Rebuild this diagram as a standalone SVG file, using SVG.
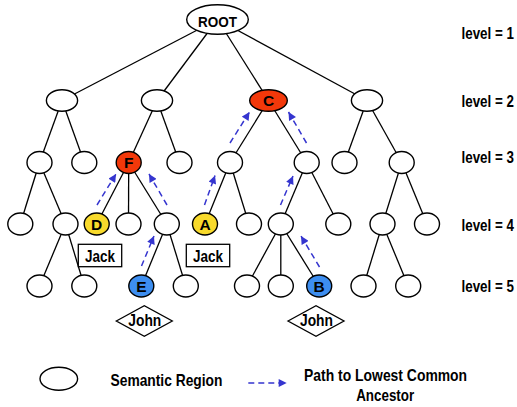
<svg xmlns="http://www.w3.org/2000/svg" width="517" height="407" viewBox="0 0 517 407">
  <style>
    .n { fill: #ffffff; stroke: #000000; stroke-width: 1.4; }
    .red { fill: #f2380a; }
    .yel { fill: #f8da2c; }
    .blu { fill: #3d8ef0; }
    .edge { stroke: #000000; stroke-width: 1.3; fill: none; }
    .lca { stroke: #3535cf; stroke-width: 1.5; stroke-dasharray: 6 4; fill: none; marker-end: url(#ah); }
    text { font-family: "Liberation Sans", Arial, Helvetica, sans-serif; font-weight: bold; fill: #000000; }
    .lbl { font-size: 16.5px; }
    .ltr { font-size: 15.5px; text-anchor: middle; }
    .tag { font-size: 16px; text-anchor: middle; }
    .box { fill: #ffffff; stroke: #000000; stroke-width: 1.3; }
  </style>
  <defs>
    <marker id="ah" viewBox="0 0 10 10" refX="10" refY="5" markerWidth="9" markerHeight="8" markerUnits="userSpaceOnUse" orient="auto">
      <path d="M0,0 L10,5 L0,10 z" fill="#3535cf"/>
    </marker>
  </defs>

  <rect width="517" height="407" fill="#ffffff"/>

  <!-- tree edges and ancestor paths -->
  <g id="connectors">
    <g id="tree-edges" class="edge">
      <line x1="217.5" y1="19.5" x2="62" y2="100.5"/>
      <line x1="217.5" y1="19.5" x2="157" y2="100.5"/>
      <line x1="217.5" y1="19.5" x2="268.5" y2="100.5"/>
      <line x1="217.5" y1="19.5" x2="367" y2="100.5"/>
      <line x1="62" y1="100.5" x2="39.5" y2="162.5"/>
      <line x1="62" y1="100.5" x2="84.3" y2="162.5"/>
      <line x1="157" y1="100.5" x2="128.7" y2="162.5"/>
      <line x1="157" y1="100.5" x2="179.5" y2="162.5"/>
      <line x1="268.5" y1="100.5" x2="230" y2="162.5"/>
      <line x1="268.5" y1="100.5" x2="306.7" y2="162.5"/>
      <line x1="367" y1="100.5" x2="344.5" y2="162.5"/>
      <line x1="367" y1="100.5" x2="401.7" y2="162.5"/>
      <line x1="39.5" y1="162.5" x2="20.3" y2="224"/>
      <line x1="39.5" y1="162.5" x2="65.5" y2="224"/>
      <line x1="128.7" y1="162.5" x2="96.7" y2="224"/>
      <line x1="128.7" y1="162.5" x2="128.5" y2="224"/>
      <line x1="128.7" y1="162.5" x2="166.8" y2="224"/>
      <line x1="230" y1="162.5" x2="205" y2="224"/>
      <line x1="230" y1="162.5" x2="249" y2="224"/>
      <line x1="306.7" y1="162.5" x2="280.8" y2="224"/>
      <line x1="306.7" y1="162.5" x2="338.3" y2="224"/>
      <line x1="401.7" y1="162.5" x2="382.5" y2="224"/>
      <line x1="401.7" y1="162.5" x2="427" y2="224"/>
      <line x1="65.5" y1="224" x2="39.5" y2="286"/>
      <line x1="65.5" y1="224" x2="84.3" y2="286"/>
      <line x1="166.8" y1="224" x2="141.3" y2="286"/>
      <line x1="166.8" y1="224" x2="185.8" y2="286"/>
      <line x1="280.8" y1="224" x2="247" y2="286"/>
      <line x1="280.8" y1="224" x2="280.8" y2="286"/>
      <line x1="280.8" y1="224" x2="319.2" y2="286"/>
      <line x1="382.5" y1="224" x2="363.5" y2="286"/>
      <line x1="382.5" y1="224" x2="408.2" y2="286"/>
    </g>
    <g id="ancestor-paths">
      <line class="lca" x1="97" y1="205" x2="116" y2="174"/>
      <line class="lca" x1="167" y1="205" x2="149" y2="174"/>
      <line class="lca" x1="141.5" y1="266" x2="154" y2="236"/>
      <line class="lca" x1="204.5" y1="205" x2="215" y2="175.5"/>
      <line class="lca" x1="230" y1="143" x2="249.5" y2="112"/>
      <line class="lca" x1="306.5" y1="143" x2="288.5" y2="112"/>
      <line class="lca" x1="280.5" y1="205" x2="293" y2="176"/>
      <line class="lca" x1="319.5" y1="267" x2="301" y2="236"/>
    </g>
  </g>

  <!-- level 1 -->
  <g id="root">
    <ellipse class="n" cx="217.5" cy="19.5" rx="30.8" ry="14.8"/>
    <text x="217.5" y="26.5" font-size="15.5" text-anchor="middle" textLength="39" lengthAdjust="spacingAndGlyphs">ROOT</text>
  </g>

  <!-- level 2 -->
  <g id="n2a"><ellipse class="n" cx="62" cy="100.5" rx="15.6" ry="10.8"/></g>
  <g id="n2b"><ellipse class="n" cx="157" cy="100.5" rx="15.6" ry="10.8"/></g>
  <g id="node-c">
    <ellipse class="n red" cx="268.5" cy="100.5" rx="18.8" ry="10.8"/>
    <text class="ltr" x="268.5" y="106">C</text>
  </g>
  <g id="n2d"><ellipse class="n" cx="367" cy="100.5" rx="15.6" ry="10.8"/></g>

  <!-- level 3 -->
  <g id="n3a"><ellipse class="n" cx="39.5" cy="162.5" rx="12.5" ry="11"/></g>
  <g id="n3b"><ellipse class="n" cx="84.3" cy="162.5" rx="12.5" ry="11"/></g>
  <g id="node-f">
    <ellipse class="n red" cx="128.7" cy="162.5" rx="12.5" ry="11"/>
    <text class="ltr" x="128.7" y="168">F</text>
  </g>
  <g id="n3d"><ellipse class="n" cx="179.5" cy="162.5" rx="12.5" ry="11"/></g>
  <g id="n3e"><ellipse class="n" cx="230" cy="162.5" rx="12.5" ry="11"/></g>
  <g id="n3f"><ellipse class="n" cx="306.7" cy="162.5" rx="12.5" ry="11"/></g>
  <g id="n3g"><ellipse class="n" cx="344.5" cy="162.5" rx="12.5" ry="11"/></g>
  <g id="n3h"><ellipse class="n" cx="401.7" cy="162.5" rx="12.5" ry="11"/></g>

  <!-- level 4 -->
  <g id="n4a"><ellipse class="n" cx="20.3" cy="224" rx="12.5" ry="11"/></g>
  <g id="n4b"><ellipse class="n" cx="65.5" cy="224" rx="12.5" ry="11"/></g>
  <g id="node-d">
    <ellipse class="n yel" cx="96.7" cy="224" rx="12.5" ry="11"/>
    <text class="ltr" x="96.7" y="229.5">D</text>
  </g>
  <g id="n4d"><ellipse class="n" cx="128.5" cy="224" rx="12.5" ry="11"/></g>
  <g id="n4e"><ellipse class="n" cx="166.8" cy="224" rx="12.5" ry="11"/></g>
  <g id="node-a">
    <ellipse class="n yel" cx="205" cy="224" rx="12.5" ry="11"/>
    <text class="ltr" x="205" y="229.5">A</text>
  </g>
  <g id="n4g"><ellipse class="n" cx="249" cy="224" rx="12.5" ry="11"/></g>
  <g id="n4h"><ellipse class="n" cx="280.8" cy="224" rx="12.5" ry="11"/></g>
  <g id="n4i"><ellipse class="n" cx="338.3" cy="224" rx="12.5" ry="11"/></g>
  <g id="n4j"><ellipse class="n" cx="382.5" cy="224" rx="12.5" ry="11"/></g>
  <g id="n4k"><ellipse class="n" cx="427" cy="224" rx="12.5" ry="11"/></g>

  <!-- level 5 -->
  <g id="n5a"><ellipse class="n" cx="39.5" cy="286" rx="12.5" ry="11"/></g>
  <g id="n5b"><ellipse class="n" cx="84.3" cy="286" rx="12.5" ry="11"/></g>
  <g id="node-e">
    <ellipse class="n blu" cx="141.3" cy="286" rx="12.5" ry="11"/>
    <text class="ltr" x="141.3" y="291.5">E</text>
  </g>
  <g id="n5d"><ellipse class="n" cx="185.8" cy="286" rx="12.5" ry="11"/></g>
  <g id="n5e"><ellipse class="n" cx="247" cy="286" rx="12.5" ry="11"/></g>
  <g id="n5f"><ellipse class="n" cx="280.8" cy="286" rx="12.5" ry="11"/></g>
  <g id="node-b">
    <ellipse class="n blu" cx="319.2" cy="286" rx="12.5" ry="11"/>
    <text class="ltr" x="319.2" y="291.5">B</text>
  </g>
  <g id="n5h"><ellipse class="n" cx="363.5" cy="286" rx="12.5" ry="11"/></g>
  <g id="n5i"><ellipse class="n" cx="408.2" cy="286" rx="12.5" ry="11"/></g>

  <!-- user tags -->
  <g id="jack-d">
    <rect class="box" x="78.3" y="244.3" width="43.4" height="22.4"/>
    <text class="tag" x="100" y="261.5" textLength="30" lengthAdjust="spacingAndGlyphs">Jack</text>
  </g>
  <g id="jack-a">
    <rect class="box" x="186.3" y="244.3" width="43.4" height="22.4"/>
    <text class="tag" x="208" y="261.5" textLength="30" lengthAdjust="spacingAndGlyphs">Jack</text>
  </g>
  <g id="john-e">
    <polygon class="box" points="116.3,321 144.3,305.8 172.3,321 144.3,336.2"/>
    <text class="tag" x="144.8" y="326" textLength="33" lengthAdjust="spacingAndGlyphs">John</text>
  </g>
  <g id="john-b">
    <polygon class="box" points="288,321 316,305.8 344,321 316,336.2"/>
    <text class="tag" x="316.5" y="326" textLength="33" lengthAdjust="spacingAndGlyphs">John</text>
  </g>

  <!-- level captions: narrow bold face via horizontal scaling -->
  <g id="levels" class="lbl">
    <text transform="translate(461.5,39.3) scale(0.81,1)">level = 1</text>
    <text transform="translate(461.5,106.5) scale(0.81,1)">level = 2</text>
    <text transform="translate(461.5,163.2) scale(0.81,1)">level = 3</text>
    <text transform="translate(461.5,230.6) scale(0.81,1)">level = 4</text>
    <text transform="translate(461.5,292.3) scale(0.81,1)">level = 5</text>
  </g>

  <!-- legend -->
  <g id="legend">
    <ellipse class="n" cx="58.8" cy="378.8" rx="18.8" ry="11.5"/>
    <text class="lbl" x="110.5" y="385.5" textLength="112" lengthAdjust="spacingAndGlyphs">Semantic Region</text>
    <line class="lca" x1="248.3" y1="383" x2="286.7" y2="383"/>
    <text class="lbl" x="385.6" y="381" text-anchor="middle" textLength="163" lengthAdjust="spacingAndGlyphs">Path to Lowest Common</text>
    <text class="lbl" x="385.2" y="401.3" text-anchor="middle" textLength="58" lengthAdjust="spacingAndGlyphs">Ancestor</text>
  </g>
</svg>
